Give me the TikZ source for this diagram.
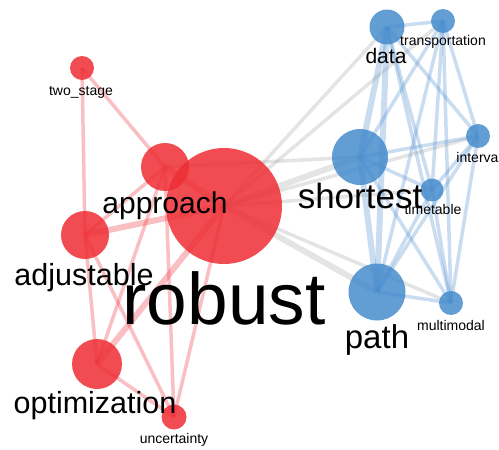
\documentclass[tikz,border=0pt]{standalone}
\usepackage{fontspec}
\setmainfont{Liberation Sans}
\definecolor{rednode}{RGB}{238,45,52}
\definecolor{bluenode}{RGB}{70,140,205}
\definecolor{redge}{RGB}{240,60,70}
\definecolor{bedge}{RGB}{90,150,210}
\definecolor{gedge}{RGB}{165,165,165}
\pgfdeclarelayer{edges}
\pgfsetlayers{edges,main}
\begin{document}
\begin{tikzpicture}[x=1pt,y=-1pt,
  rn/.style={circle, fill=rednode, fill opacity=0.85, inner sep=0pt},
  bn/.style={circle, fill=bluenode, fill opacity=0.85, inner sep=0pt},
  re/.style={draw=redge, draw opacity=0.33, line width=3.5pt},
  be/.style={draw=bedge, draw opacity=0.33, line width=3.5pt},
  ge/.style={draw=gedge, draw opacity=0.3, line width=3.5pt},
  heavy/.style={line width=6pt},
  lbl/.style={anchor=base, inner sep=0pt, text=black},
  small/.style={lbl, font=\fontsize{14}{14}\selectfont}]
\useasboundingbox (0,0) rectangle (499,450);
\clip (0,0) rectangle (499,450);
% red nodes
\node[rn, minimum size=24pt] (twostage) at (82,68) {};
\node[rn, minimum size=48pt] (approach) at (165,167) {};
\node[rn, minimum size=116pt] (robust) at (224,206) {};
\node[rn, minimum size=48pt] (adjustable) at (85,235) {};
\node[rn, minimum size=50pt] (optimization) at (97,364) {};
\node[rn, minimum size=25pt] (uncertainty) at (174,417) {};
% blue nodes
\node[bn, minimum size=35pt] (data) at (387,27) {};
\node[bn, minimum size=24pt] (transportation) at (443,21) {};
\node[bn, minimum size=56pt] (shortest) at (360,157) {};
\node[bn, minimum size=24pt] (interval) at (478,136) {};
\node[bn, minimum size=23pt] (timetable) at (432,190) {};
\node[bn, minimum size=57pt] (path) at (377,292) {};
\node[bn, minimum size=24pt] (multimodal) at (451,303) {};
% edges
\begin{pgfonlayer}{edges}
% gray
\draw[ge] (robust.center) -- (data.center);
\draw[ge] (robust.center) -- (transportation.center);
\draw[ge, heavy] (robust.center) -- (shortest.center);
\draw[ge] (robust.center) -- (interval.center);
\draw[ge] (robust.center) -- (timetable.center);
\draw[ge, heavy] (robust.center) -- (path.center);
\draw[ge] (robust.center) -- (multimodal.center);
\draw[ge] (approach.center) -- (shortest.center);
% red
\draw[re] (twostage.center) -- (approach.center);
\draw[re] (twostage.center) -- (adjustable.center);
\draw[re] (approach.center) -- (adjustable.center);
\draw[re] (approach.center) -- (optimization.center);
\draw[re] (approach.center) -- (uncertainty.center);
\draw[re, heavy] (approach.center) -- (robust.center);
\draw[re, heavy] (robust.center) -- (adjustable.center);
\draw[re, heavy] (robust.center) -- (optimization.center);
\draw[re] (robust.center) -- (uncertainty.center);
\draw[re] (adjustable.center) -- (optimization.center);
\draw[re] (adjustable.center) -- (uncertainty.center);
\draw[re] (optimization.center) -- (uncertainty.center);
% blue
\foreach \a/\b in {data/transportation, data/interval, data/timetable, data/multimodal,
  transportation/shortest, transportation/interval, transportation/timetable, transportation/path, transportation/multimodal,
  shortest/interval, shortest/timetable, shortest/multimodal,
  interval/timetable, interval/path, interval/multimodal,
  timetable/path, timetable/multimodal, path/multimodal}
  \draw[be] (\a.center) -- (\b.center);
\draw[be, heavy] (data.center) -- (shortest.center);
\draw[be, heavy] (data.center) -- (path.center);
\draw[be, heavy] (shortest.center) -- (path.center);
\end{pgfonlayer}
% labels
\node[small] (twostageL) at (81,95) {two\_stage};
\node[lbl, font=\fontsize{30}{30}\selectfont] (approachL) at (165,213) {approach};
\node[lbl, font=\fontsize{30.5}{30}\selectfont] (adjustableL) at (84,285) {adjustable};
\node[lbl, font=\fontsize{30.5}{30}\selectfont] (optimizationL) at (95,413) {optimization};
\node[small] (uncertaintyL) at (174,443) {uncertainty};
\node[lbl, font=\fontsize{73}{73}\selectfont] (robustL) at (224,324) {robust};
\node[lbl, font=\fontsize{21}{21}\selectfont] (dataL) at (386,63) {data};
\node[small] (transportationL) at (443,45) {transportation};
\node[lbl, font=\fontsize{35}{35}\selectfont] (shortestL) at (360,208) {shortest};
\node[small] (intervalL) at (479,162) {interval};
\node[small] (timetableL) at (433,214) {timetable};
\node[lbl, font=\fontsize{33}{33}\selectfont] (pathL) at (377,348) {path};
\node[small] (multimodalL) at (451,330) {multimodal};
\end{tikzpicture}
\end{document}
